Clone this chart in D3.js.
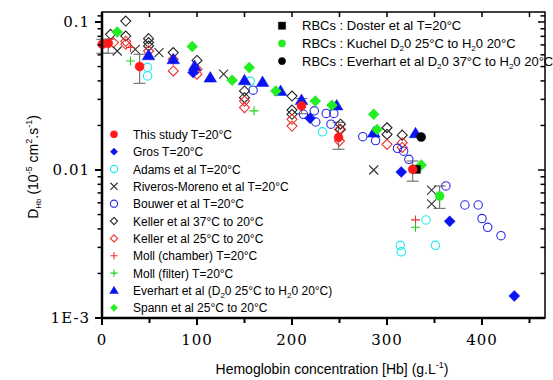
<!DOCTYPE html>
<meta charset="utf-8">
<script src="https://cdn.jsdelivr.net/npm/d3@7"></script>
<head>
  <title>DHb vs hemoglobin concentration</title>
  <style>
    body { margin: 0; background: #fff; }
    .tick-label { font-family: "DejaVu Serif", serif; font-size: 15px; }
    .leg { font-family: "Liberation Sans", Arial, sans-serif; font-size: 12px; }
    .leg2 { font-family: "Liberation Sans", Arial, sans-serif; font-size: 13px; }
    .title { font-family: "Liberation Sans", Arial, sans-serif; font-size: 14px; }
  </style>
</head>
<body>
<div id="chart"></div>
<script>
// ---- data ----
var thisStudyX = [0.3, 6.6, 39.6, 210, 249, 327];
var thisStudyY = [0.0707, 0.0718, 0.050, 0.0271, 0.0166, 0.0101];
var thisStudyLo = [0.0615, 0.0615, 0.0385, 0.0240, 0.0138, 0.0084];
var thisStudyHi = [0.0764, 0.0764, 0.0605, 0.0304, 0.0210, 0.0115];

var grosX = [96, 219, 315, 366, 434];
var grosY = [0.0455, 0.0224, 0.0097, 0.0045, 0.00141];

var adamsX = [48, 48, 156, 232, 314, 315, 341, 351];
var adamsY = [0.0494, 0.0432, 0.0399, 0.0181, 0.0031, 0.0028, 0.0046, 0.0031];

var riverosX = [16, 35, 60, 128, 286, 347, 347];
var riverosY = [0.0637, 0.0654, 0.0621, 0.0444, 0.0100, 0.0073, 0.0059];

var bouwerX = [159, 212, 223.5, 225, 236, 244, 241, 274.5, 288, 311, 317.5, 323, 362, 382, 396, 400, 406, 420];
var bouwerY = [0.0346, 0.0238, 0.0251, 0.0211, 0.0241, 0.0241, 0.0204, 0.0168, 0.0158, 0.0140, 0.0134, 0.0118, 0.0078, 0.0058, 0.0058, 0.0047, 0.0041, 0.0036];

var keller37X = [9, 25, 25, 49, 49, 49, 75, 100, 150, 150, 200, 200, 200, 251, 251, 300, 300, 316];
var keller37Y = [0.0826, 0.1015, 0.0804, 0.0772, 0.0726, 0.0689, 0.0621, 0.055, 0.0342, 0.0308, 0.0316, 0.0254, 0.0238, 0.0204, 0.0188, 0.0193, 0.0174, 0.0172];

var keller25X = [12, 25, 25, 49, 75, 75, 100, 100, 150, 150, 200, 200, 250, 250, 300, 316, 316];
var keller25Y = [0.0726, 0.074, 0.0707, 0.0637, 0.056, 0.0467, 0.0444, 0.048, 0.0292, 0.0264, 0.022, 0.0198, 0.0188, 0.0157, 0.0149, 0.0153, 0.0142];

var mollChamberX = [30, 330];
var mollChamberY = [0.0672, 0.0046];
var mollFilterX = [30, 160, 330];
var mollFilterY = [0.0545, 0.0251, 0.0041];

var everhartX = [49, 75, 97.5, 114, 150, 169, 188, 210, 247, 286, 330];
var everhartY = [0.0596, 0.056, 0.0505, 0.0421, 0.0404, 0.0393, 0.0342, 0.0297, 0.0273, 0.0179, 0.0177];

var spannX = [16, 95, 137, 155, 183, 224.5, 242, 286, 289.5, 336];
var spannY = [0.0856, 0.0682, 0.0404, 0.0492, 0.0342, 0.0292, 0.0274, 0.0238, 0.0188, 0.0108];

var dosterX = [331], dosterY = [0.0101];
var kuchelX = [355.4], kuchelY = [0.00667], kuchelLo = [0.0055], kuchelHi = [0.0078];
var everhartRbcX = [336], everhartRbcY = [0.0167];

var xTicks = [0, 100, 200, 300, 400];
var yTicks = [0.001, 0.01, 0.1];
var yTickLabels = ["1E-3", "0.01", "0.1"];

// ---- layout ----
var W = 553, H = 380;
var plotL = 102, plotR = 545, plotT = 12, plotB = 318;

var svg = d3.select("#chart").append("svg")
    .attr("width", W).attr("height", H);

var x = d3.scaleLinear().domain([0, (plotR - plotL) / 0.95]).range([plotL, plotR]);
var y = d3.scaleLog().domain([0.001, Math.pow(10, -3 + (plotB - plotT) / 148)]).range([plotB, plotT]);

// marker paths
function markerPath(type, s) {
  switch (type) {
    case "circle": case "ocircle":
      return "M" + s + ",0A" + s + "," + s + " 0 1,1 " + (-s) + ",0A" + s + "," + s + " 0 1,1 " + s + ",0Z";
    case "diamond": case "odiamond":
      return "M0," + (-s) + "L" + s + ",0L0," + s + "L" + (-s) + ",0Z";
    case "triangle":
      return "M0," + (-s) + "L" + (s * 1.05) + "," + (s * 0.75) + "L" + (-s * 1.05) + "," + (s * 0.75) + "Z";
    case "square":
      return "M" + (-s) + "," + (-s) + "H" + s + "V" + s + "H" + (-s) + "Z";
    case "x":
      return "M" + (-s) + "," + (-s) + "L" + s + "," + s + "M" + (-s) + "," + s + "L" + s + "," + (-s);
    case "plus":
      return "M" + (-s) + ",0H" + s + "M0," + (-s) + "V" + s;
  }
}
function styleMarker(sel, type, color) {
  var open = (type === "ocircle" || type === "odiamond" || type === "x" || type === "plus");
  sel.attr("fill", open ? "none" : color)
     .attr("stroke", color)
     .attr("stroke-width", open ? 1.1 : 0.5);
}

var series = [
  {xs: keller37X, ys: keller37Y, type: "odiamond", color: "#222", size: 5},
  {xs: keller25X, ys: keller25Y, type: "odiamond", color: "#e8332b", size: 5},
  {xs: riverosX, ys: riverosY, type: "x", color: "#333", size: 4.5},
  {xs: bouwerX, ys: bouwerY, type: "ocircle", color: "#2a2ae6", size: 4.2},
  {xs: adamsX, ys: adamsY, type: "ocircle", color: "#1ee8f0", size: 4.2},
  {xs: mollChamberX, ys: mollChamberY, type: "plus", color: "#e8332b", size: 4.5},
  {xs: mollFilterX, ys: mollFilterY, type: "plus", color: "#22cc22", size: 4.5},
  {xs: grosX, ys: grosY, type: "diamond", color: "#0a14f0", size: 5.5},
  {xs: everhartX, ys: everhartY, type: "triangle", color: "#0a14f0", size: 6},
  {xs: spannX, ys: spannY, type: "diamond", color: "#22ee22", size: 5.5},
  {xs: dosterX, ys: dosterY, type: "square", color: "#000", size: 4},
  {xs: everhartRbcX, ys: everhartRbcY, type: "circle", color: "#000", size: 4.5},
  {xs: kuchelX, ys: kuchelY, type: "circle", color: "#22ee22", size: 4.5},
  {xs: thisStudyX, ys: thisStudyY, type: "circle", color: "#ff1a1a", size: 4.5}
];

// ---- error bars ----
function errorBars(xs, ys, lo, hi) {
  var g = svg.append("g").attr("stroke", "#777").attr("stroke-width", 1.2);
  xs.forEach(function(v, i) {
    var cx = x(v);
    g.append("line").attr("x1", cx).attr("x2", cx).attr("y1", y(lo[i])).attr("y2", y(hi[i]));
    g.append("line").attr("x1", cx - 6).attr("x2", cx + 6).attr("y1", y(lo[i])).attr("y2", y(lo[i]));
    g.append("line").attr("x1", cx - 6).attr("x2", cx + 6).attr("y1", y(hi[i])).attr("y2", y(hi[i]));
  });
}
errorBars(thisStudyX, thisStudyY, thisStudyLo, thisStudyHi);
errorBars(kuchelX, kuchelY, kuchelLo, kuchelHi);

// ---- points ----
series.forEach(function(s) {
  var pts = s.xs.map(function(v, i) { return [v, s.ys[i]]; });
  svg.append("g").selectAll("path").data(pts).enter().append("path")
    .attr("transform", function(d) { return "translate(" + x(d[0]) + "," + y(d[1]) + ")"; })
    .attr("d", markerPath(s.type, s.size))
    .call(styleMarker, s.type, s.color);
});

// ---- axes / frame ----
var minorY = [];
[0.001, 0.01].forEach(function(dec) { for (var k = 2; k <= 9; k++) minorY.push(dec * k); });
minorY.push(0.11);
var minorX = [50, 150, 250, 350, 450];

var ax = svg.append("g").attr("stroke", "#000");
ax.append("rect").attr("x", plotL).attr("y", plotT).attr("width", plotR - plotL).attr("height", plotB - plotT)
  .attr("fill", "none").attr("stroke-width", 1.5);
ax.append("line").attr("x1", plotL).attr("x2", plotR).attr("y1", plotB).attr("y2", plotB).attr("stroke-width", 2.5);
ax.append("line").attr("x1", plotL).attr("x2", plotL).attr("y1", plotT).attr("y2", plotB).attr("stroke-width", 2.5);

// left ticks (outward), right ticks (inward)
yTicks.forEach(function(v) {
  ax.append("line").attr("x1", plotL - 7).attr("x2", plotL).attr("y1", y(v)).attr("y2", y(v)).attr("stroke-width", 2);
  ax.append("line").attr("x1", plotR - 7).attr("x2", plotR).attr("y1", y(v)).attr("y2", y(v)).attr("stroke-width", 1.5);
});
minorY.forEach(function(v) {
  ax.append("line").attr("x1", plotL - 4.5).attr("x2", plotL).attr("y1", y(v)).attr("y2", y(v)).attr("stroke-width", 1.5);
  ax.append("line").attr("x1", plotR - 4.5).attr("x2", plotR).attr("y1", y(v)).attr("y2", y(v)).attr("stroke-width", 1.5);
});
// bottom ticks (outward), top ticks (inward)
xTicks.concat(minorX).forEach(function(v) {
  var major = xTicks.indexOf(v) >= 0;
  ax.append("line").attr("x1", x(v)).attr("x2", x(v)).attr("y1", plotB).attr("y2", plotB + (major ? 7 : 5)).attr("stroke-width", 2);
  ax.append("line").attr("x1", x(v)).attr("x2", x(v)).attr("y1", plotT).attr("y2", plotT + 5).attr("stroke-width", 1.5);
});

// tick labels
svg.append("g").selectAll("text").data(xTicks).enter().append("text")
  .attr("class", "tick-label").attr("x", function(d) { return x(d); }).attr("y", 345)
  .attr("text-anchor", "middle").style("letter-spacing", "1px").text(function(d) { return d; });
svg.append("g").selectAll("text").data(yTicks).enter().append("text")
  .attr("class", "tick-label").attr("x", 90).attr("y", function(d) { return y(d) + 5; })
  .attr("text-anchor", "end").style("letter-spacing", "1px")
  .text(function(d, i) { return yTickLabels[i]; });

// axis titles
var xt = svg.append("text").attr("class", "title").attr("x", 332).attr("y", 374).attr("text-anchor", "middle");
xt.append("tspan").text("Hemoglobin concentration [Hb] (g.L");
xt.append("tspan").attr("font-size", "9px").attr("dy", -6).text("-1");
xt.append("tspan").attr("dy", 6).text(")");

var yt = svg.append("text").attr("class", "title").attr("text-anchor", "middle")
  .attr("transform", "translate(38,167) rotate(-90)");
yt.append("tspan").text("D");
yt.append("tspan").attr("font-size", "8px").attr("dy", 3).text("Hb");
yt.append("tspan").attr("dy", -3).text(" (10");
yt.append("tspan").attr("font-size", "9px").attr("dy", -6).text("-5");
yt.append("tspan").attr("dy", 6).text(" cm");
yt.append("tspan").attr("font-size", "9px").attr("dy", -6).text("2");
yt.append("tspan").attr("dy", 6).text(".s");
yt.append("tspan").attr("font-size", "9px").attr("dy", -6).text("-1");
yt.append("tspan").attr("dy", 6).text(")");

// ---- legends ----
var leftLegend = [
  {label: "This study T=20°C", type: "circle", color: "#ff1a1a"},
  {label: "Gros T=20°C", type: "diamond", color: "#0a14f0"},
  {label: "Adams et al T=20°C", type: "ocircle", color: "#1ee8f0"},
  {label: "Riveros-Moreno et al T=20°C", type: "x", color: "#333"},
  {label: "Bouwer et al T=20°C", type: "ocircle", color: "#2a2ae6"},
  {label: "Keller et al 37°C to 20°C", type: "odiamond", color: "#222"},
  {label: "Keller et al 25°C to 20°C", type: "odiamond", color: "#e8332b"},
  {label: "Moll (chamber) T=20°C", type: "plus", color: "#e8332b"},
  {label: "Moll (filter) T=20°C", type: "plus", color: "#22cc22"},
  {label: ["Everhart et al (D", "2", "0 25°C to H", "2", "0 20°C)"], type: "triangle", color: "#0a14f0"},
  {label: "Spann et al 25°C to 20°C", type: "diamond", color: "#22ee22"}
];
var rightLegend = [
  {label: ["RBCs : Doster et al T=20°C"], type: "square", color: "#000"},
  {label: ["RBCs : Kuchel D", "2", "0 25°C to H", "2", "0 20°C"], type: "circle", color: "#22ee22"},
  {label: ["RBCs : Everhart et al D", "2", "0 37°C to H", "2", "0 20°C"], type: "circle", color: "#000"}
];

function drawLegend(items, mx, tx, y0, step, msize, cls) {
  var g = svg.append("g");
  items.forEach(function(it, i) {
    var yy = y0 + i * step;
    g.append("path").attr("transform", "translate(" + mx + "," + yy + ")")
      .attr("d", markerPath(it.type, it.type === "triangle" ? msize + 0.5 : msize))
      .call(styleMarker, it.type, it.color);
    var t = g.append("text").attr("class", cls).attr("x", tx).attr("y", yy + 4.5);
    var parts = Array.isArray(it.label) ? it.label : [it.label];
    parts.forEach(function(p, j) {
      if (j % 2 === 1) t.append("tspan").attr("font-size", "8px").attr("dy", 3).text(p);
      else t.append("tspan").attr("dy", j === 0 ? 0 : -3).text(p);
    });
  });
}
drawLegend(leftLegend, 114, 133, 134.3, 17.35, 3.6, "leg");
drawLegend(rightLegend, 282, 302, 25.7, 17.7, 3.6, "leg2");
</script>
</body>
</html>
